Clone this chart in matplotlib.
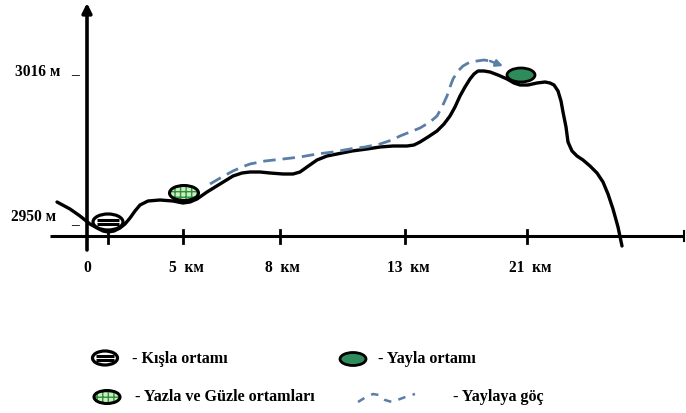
"""Transhumance profile sketch: kışla - yazla - yayla."""

import matplotlib.pyplot as plt
from matplotlib.patches import Ellipse


# profile of the terrain, drawn in sketch units (pixels of the original sheet)
PROFILE_X = [57, 70, 80, 90, 97, 103, 108, 114, 120, 125, 130, 135, 140, 148, 160,
             173, 183, 190, 197, 207, 220, 233, 242, 250, 260, 270, 283, 293, 300,
             307, 317, 327, 337, 352, 367, 380, 393, 407, 414, 420, 428, 437, 444,
             450, 455, 460, 465, 470, 474, 478, 484, 490, 498, 507, 514, 520, 528,
             537, 545, 550, 554, 558, 561, 563, 566, 568, 572, 577, 583, 590, 597,
             603, 608, 613, 618, 622]
PROFILE_Y = [203, 210, 217, 225, 229, 232, 233, 232, 229, 225, 219, 212, 206, 202, 201,
             202, 204, 203, 200, 193, 185, 177, 174, 173, 173, 174, 175, 175, 173,
             168, 161, 157, 155, 152, 150, 148, 147, 147, 146, 143, 138, 132, 125,
             117, 108, 97, 88, 80, 75, 72, 72, 73, 76, 80, 84, 86, 86,
             84, 83, 84, 86, 92, 102, 113, 128, 143, 152, 157, 161, 167, 174,
             183, 195, 210, 228, 247]

# migration route to the yayla
ROUTE_X = [210, 222, 233, 242, 250, 265, 283, 300, 317, 333, 350, 365, 380, 392, 400,
           410, 420, 430, 437, 442, 447, 450, 453, 458, 463, 470, 477, 484, 490]
ROUTE_Y = [185, 178, 172, 168, 165, 162, 160, 158, 155, 153, 150, 148, 145, 141, 137,
           133, 129, 123, 117, 108, 97, 88, 80, 72, 67, 63, 62, 61, 62]
ROUTE_END = (503, 67)

# x axis ticks and labels
TICK_X = [108, 183, 280, 405, 527]
LABEL_X = [87, 186, 282, 408, 530]
LABELS = ["0", "5  км", "8  км", "13  км", "21  км"]

# settlements
KISLA = (108, 223)
YAZLA = (184, 194)
YAYLA = (521, 76)

ROUTE_COLOR = "#5a7ea6"
YAYLA_COLOR = "#2e8b5c"
FONT = "Liberation Serif"


def kisla_mark(ax, xy, w=30, h=16):
    x, y = xy
    ax.add_patch(Ellipse(xy, w, h, facecolor="white", edgecolor="black",
                         linewidth=2.3, zorder=5))
    for dy, lw in [(-1.6, 2.2), (2.0, 2.2)]:
        ax.plot([x - 0.36 * w, x + 0.36 * w], [y + dy, y + dy], color="black",
                lw=lw, solid_capstyle="butt", zorder=6)


def yazla_mark(ax, xy, w=29, h=15):
    ax.add_patch(Ellipse(xy, w, h, facecolor="#c9efc0", edgecolor="#2f8f3a",
                         hatch="+++", linewidth=0, zorder=5))
    ax.add_patch(Ellipse(xy, w, h, facecolor="none", edgecolor="black",
                         linewidth=2.2, zorder=6))


def yayla_mark(ax, xy, w=28, h=14):
    ax.add_patch(Ellipse(xy, w, h, facecolor=YAYLA_COLOR, edgecolor="black",
                         linewidth=2.0, zorder=5))


def main() -> None:
    fig = plt.figure(figsize=(6.86, 4.14), dpi=100)
    ax = fig.add_axes([0, 0, 1, 1])
    ax.set_xlim(0, 686)
    ax.set_ylim(414, 0)
    ax.axis("off")

    label_kw = dict(va="center", fontsize=11.2, fontweight="bold", family=FONT)

    # axes of the sketch
    ax.plot([50, 684], [237, 237], color="black", lw=2.2, solid_capstyle="butt")
    ax.plot([684, 684], [232, 242], color="black", lw=1.5)
    ax.annotate("", xy=(87, 4), xytext=(87, 251),
                arrowprops=dict(arrowstyle="-|>", color="black", lw=2.6,
                                mutation_scale=14, shrinkA=0, shrinkB=0))
    for x in TICK_X:
        ax.plot([x, x], [231, 244], color="black", lw=2.0)
    for x, label in zip(LABEL_X, LABELS):
        ax.text(x, 268, label, ha="center", **label_kw)

    ax.text(15, 72, "3016 м", ha="left", **label_kw)
    ax.text(71, 70, "_", ha="left", **label_kw)
    ax.text(11, 217, "2950 м", ha="left", **label_kw)
    ax.text(71, 220, "_", ha="left", **label_kw)

    ax.plot(PROFILE_X, PROFILE_Y, color="black", lw=2.4,
            solid_joinstyle="round", solid_capstyle="round", zorder=3)

    ax.plot(ROUTE_X, ROUTE_Y, color=ROUTE_COLOR, lw=2.0,
            dashes=(4.5, 2.5), zorder=4)
    ax.annotate("", xy=ROUTE_END, xytext=(ROUTE_X[-1], ROUTE_Y[-1]),
                arrowprops=dict(arrowstyle="-|>", color=ROUTE_COLOR, lw=1.8,
                                mutation_scale=10, shrinkA=0, shrinkB=0))

    kisla_mark(ax, KISLA)
    yazla_mark(ax, YAZLA)
    yayla_mark(ax, YAYLA)

    # legend
    text_kw = dict(ha="left", va="center", fontsize=11.6, fontweight="bold",
                   family=FONT)
    kisla_mark(ax, (105, 359), w=25, h=14)
    ax.text(132, 359, "- Kışla ortamı", **text_kw)
    yayla_mark(ax, (353, 360), w=26, h=13)
    ax.text(378, 359, "- Yayla ortamı", **text_kw)
    yazla_mark(ax, (107, 398), w=26, h=13)
    ax.text(135, 397, "- Yazla ve Güzle ortamları", **text_kw)
    ax.plot([358, 366, 373, 379, 385, 392, 400, 408, 415],
            [403, 398, 395, 396, 401, 403, 400, 397, 395],
            color=ROUTE_COLOR, lw=1.8, dashes=(3, 3))
    ax.text(453, 397, "- Yaylaya göç", **text_kw)

    fig.savefig("out.png", dpi=100)
    plt.close(fig)


if __name__ == "__main__":
    main()
